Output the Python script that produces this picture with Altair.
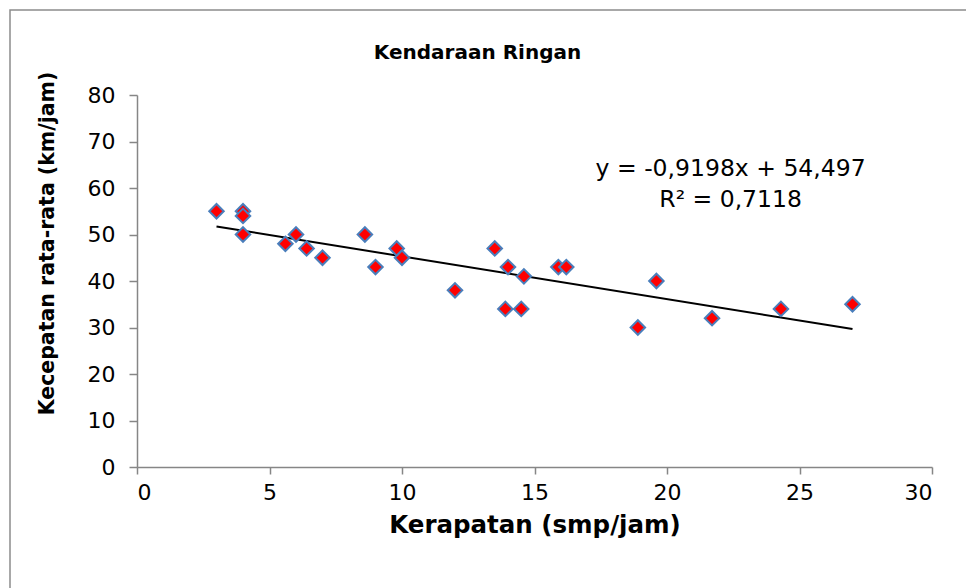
import altair as alt
import pandas as pd

# Data
kerapatan = [3.0, 4.0, 4.0, 4.0, 5.6, 6.0, 6.4, 7.0, 8.6, 9.0, 9.8, 10.0, 12.0,
             13.5, 13.9, 14.0, 14.5, 14.6, 15.9, 16.2, 18.9, 19.6, 21.7, 24.3, 27.0]
kecepatan = [55, 55, 54, 50, 48, 50, 47, 45, 50, 43, 47, 45, 38,
             47, 34, 43, 34, 41, 43, 43, 30, 40, 32, 34, 35]
slope = -0.9198
intercept = 54.497
r_squared = 0.7118
eq_pos = [22.4, 64.0]

FONT = "DejaVu Sans"

pts = pd.DataFrame({"x": kerapatan, "y": kecepatan})
xs = [min(kerapatan), max(kerapatan)]
trend = pd.DataFrame({"x": xs, "y": [slope * v + intercept for v in xs]})

def fmt(v):
    return str(v).replace(".", ",")

eq_text = [
    f"y = {fmt(slope)}x + {fmt(intercept)}",
    f"R\u00b2 = {fmt(r_squared)}",
]
eq = pd.DataFrame({"x": [eq_pos[0]], "y": [eq_pos[1]], "t": [eq_text]})

xscale = alt.Scale(domain=[0, 30], nice=False, zero=True)
yscale = alt.Scale(domain=[0, 80], nice=False)

xaxis = alt.Axis(values=[0, 5, 10, 15, 20, 25, 30], title="Kerapatan (smp/jam)",
                 grid=False, tickSize=7, labelPadding=8, titlePadding=10,
                 titleFontSize=24.5)
yaxis = alt.Axis(values=[0, 10, 20, 30, 40, 50, 60, 70, 80],
                 title="Kecepatan rata-rata (km/jam)", grid=False, tickSize=8,
                 labelPadding=14, titleFontSize=20.5, titleAngle=270,
                 titleX=-90, titleY=148, titleAlign="center",
                 titleBaseline="middle")

frame = alt.Chart(pd.DataFrame({"a": [0]})).mark_rect(
    fill="white", fillOpacity=0, stroke="#8c8c8c", strokeWidth=1.5
).encode(
    x=alt.value(-127), y=alt.value(-85), x2=alt.value(860), y2=alt.value(520)
)

points = alt.Chart(pts).mark_point(
    shape="diamond", filled=True, fill="#ff0000", stroke="#4a7ebb",
    strokeWidth=2, size=210, opacity=1, strokeOpacity=1
).encode(
    x=alt.X("x:Q", scale=xscale, axis=xaxis),
    y=alt.Y("y:Q", scale=yscale, axis=yaxis),
)

line = alt.Chart(trend).mark_line(color="black", strokeWidth=2).encode(
    x=alt.X("x:Q", scale=xscale),
    y=alt.Y("y:Q", scale=yscale),
)

label = alt.Chart(eq).mark_text(
    font=FONT, fontSize=23.5, align="center", baseline="middle", lineHeight=31,
    color="black"
).encode(
    x=alt.X("x:Q", scale=xscale),
    y=alt.Y("y:Q", scale=yscale),
    text="t",
)

chart = alt.layer(frame, line, points, label).properties(
    width=795,
    height=372,
    background="white",
    title=alt.TitleParams("Kendaraan Ringan", font=FONT, fontSize=20,
                          fontWeight="bold", anchor="middle", frame="group",
                          dx=-57, offset=0, dy=70, baseline="alphabetic"),
    autosize=alt.AutoSizeParams(type="none"),
    padding={"left": 137, "top": 95, "right": 34, "bottom": 121},
).configure_view(stroke=None).configure_axis(
    domainColor="#868686", tickColor="#868686", domainWidth=1.5, tickWidth=1.5,
    labelFont=FONT, labelFontSize=22, labelColor="black",
    titleFont=FONT, titleFontWeight="bold", titleColor="black",
)

chart.save("out.html", embed_options={"renderer": "svg", "actions": False})
